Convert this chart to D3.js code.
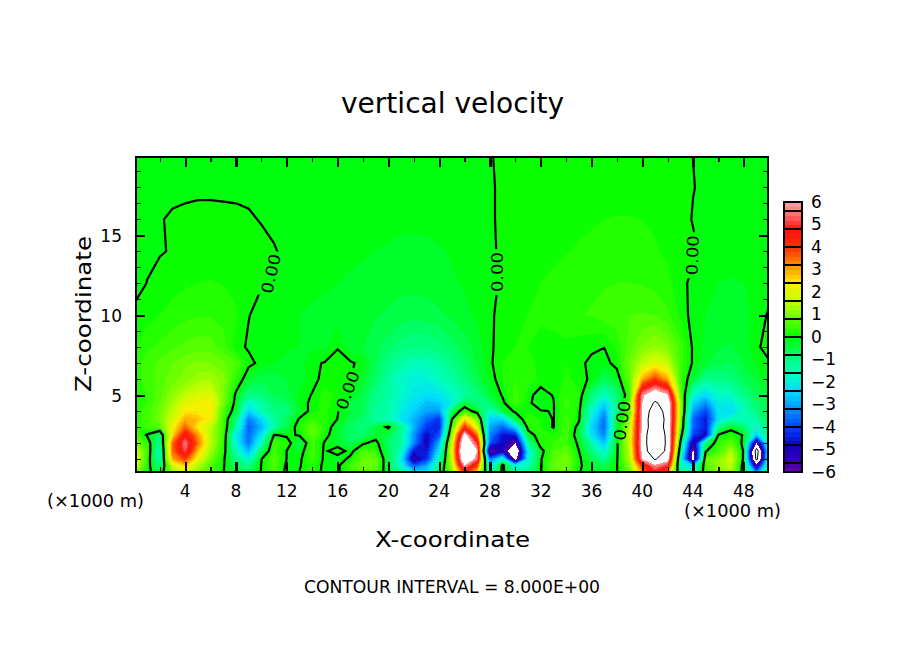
<!DOCTYPE html>
<html><head><meta charset="utf-8">
<script src="https://cdn.jsdelivr.net/npm/d3@7"></script>
<style>html,body{margin:0;padding:0;background:#fff}svg{display:block}text{font-family:"DejaVu Sans";fill:#000}</style>
</head><body><svg id="c" width="904" height="654"></svg>
<script>
// Column positions (km) and row heights (km)
const xKm = d3.range(0, 51);
const zKm = [0.1,0.6,1,1.5,2,2.5,3,3.5,4,4.5,5,6,7,8,10,12,14,16,18,20];
// Vertical velocity, one list per height (x = 0..50 km)
const w00 = [1.2,.2,-.4,1.1,1.8,1,.5,.01,-.3,-.5, .03,.5,-.15,.02,.3,-.15,-.05,.3,.7,.6, -.4,-1.1,-2,-2.2,-.5,1,4,2.5,-1.5,.15, -1,-1,-.03,.7,.8,.02,-.2,-.3,-.02,.8, 3,4.5,3.3,-1,-1.3,.4,1,1.3,-.3,-3, -.5];
const w06 = [2,.3,-1,1.8,2.8,1.5,.7,.05,-.6,-1, .02,.7,-.1,-.05,.4,-.15,-.1,.5,.9,.8, -.5,-1.8,-3.8,-3,-1,1.5,6,4,-2.5,.2, -2,-1.5,-.05,.8,1,.1,-.3,-.6,-.02,1.1, 4.3,5.8,5,-1.5,-2.5,.6,1.2,1.6,-.3,-5.5, -.8];
const w10 = [2.2,.4,-1.4,3,4,2.2,1,.1,-1,-1.9, -.02,.7,-.01,-.1,.5,-.1,-.3,.15,.8,.8, -.5,-2,-5.5,-4.2,-1.6,1.8,7.5,5.5,-3.5,-1.5, -6.5,-2,-.05,.7,1,.1,-.5,-1.2,-.05,1.5, 6,8.2,6.5,-1.5,-6.6,.8,1.1,1.8,-.15,-8.5, -1];
const w15 = [2,.5,-1.5,3.5,5.3,2.8,1.3,.3,-1.5,-2.8, -.7,.5,-.01,-.3,.6,-.1,.3,-.2,.6,.4, -.6,-1.5,-4.5,-4.6,-2.2,2,8,6,-6.1,-5, -7.5,-2,-.2,.6,.8,.01,-.9,-1.9,-.1,1.6, 6.3,10.5,7.2,-.8,-6.2,-.05,.5,1.4,-.1,-9, -1.2];
const w20 = [1.2,.4,-1.2,3.5,5.6,3.5,1.6,.4,-1.9,-3.5, -1.5,.5,.3,-.6,.5,-.05,-.3,-.6,-.1,.2, -.8,-1.2,-3.2,-5,-2.8,1.8,7.5,5,-3.8,-4.8, -6,-1.2,.3,.4,.5,-.1,-1.3,-2.7,-.1,1.8, 6.4,11,7.3,-.1,-5.5,-.8,.4,.8,-.2,-6, -1];
const w25 = [.6,-.05,-.8,2.5,4.8,3.2,1.5,.5,-2,-3.6, -2.2,.05,-.1,.05,.8,.15,-.3,-.8,-.8,-.3, -.5,-1.2,-3.1,-4.8,-3.8,1.2,6.5,3.5,-3.3,-4.6, -4.4,-.3,.3,.2,.5,-.3,-2.2,-3.3,-.3,1.8, 6.3,11,7.2,.5,-4,-4.8,.05,.3,-.05,-2.5, -.7];
const w30 = [.3,.5,.7,2.2,3.6,2.3,1.6,.5,-1.2,-3.7, -2.8,-1.3,-.5,.3,.8,.3,-.3,-.7,-.9,-.4, .1,-1,-2.8,-4.1,-4.4,.6,4.2,2,-3,-3.6, -2.4,.2,.2,-.02,.6,-.2,-2.4,-3.6,-.4,1.6, 6.2,10,7,1,-3.6,-4.5,-1,-.2,-.8,-1.8, -.6];
const w35 = [.3,.5,1,1.8,3,2.8,2.2,.5,-.9,-3.4, -2.4,-1.2,-.6,.05,.4,.3,-.01,-.5,-.7,-1.3, -1.5,-2.1,-2.8,-3.6,-4.2,-.05,2.6,1,-2.5,-2.5, -.5,.4,.2,-.02,.5,.1,-2,-3.5,-.4,1.2, 6.3,10,7.2,1.2,-3.6,-4.5,-2.2,-1.6,-1.5,-1.3, -.5];
const w40 = [.3,.5,.9,1.6,2.4,2.4,2.3,.6,-.3,-2.5, -1.5,-1,-.9,-.3,.15,.25,.03,-.4,-.6,-1.2, -1.3,-2,-2.5,-3,-3.1,-.6,.4,-.3,-1.6,-.4, .1,.1,.03,-.02,.4,.15,-1.8,-3,-1,.8, 6.2,9.5,7,1.4,-3,-4,-2.2,-2.4,-1.5,-.9, -.4];
const w45 = [.2,.4,.8,1.4,2,2.2,2.4,1,-.2,-1.8, -1.3,-.8,-.7,-.2,.1,.3,.05,-.4,-.6,-1.1, -1.4,-1.9,-2.3,-2.7,-2.6,-1.9,-.4,-.9,-.8,-.1, .5,.1,-.25,-.02,.5,.2,-1.2,-2.4,-1,1, 6,8.3,7,1.3,-2.5,-3.2,-2,-2.1,-1.3,-.8, -.4];
const w50 = [.2,.4,.7,1.2,1.6,1.9,2,1,-.1,-1, -.9,-.6,-.5,-.15,.02,.3,.15,-.15,-.5,-1, -1.3,-1.7,-2.1,-2.3,-2.2,-1.7,-1.3,-.9,-.4,.05, .5,.1,-.15,.02,.4,.3,-.9,-1.6,-.9,.5, 5.8,7,6.1,.9,-1.7,-2.4,-1.7,-1.6,-1,-.6, -.3];
const w60 = [.3,.5,.7,.9,1.1,1.3,1.4,1.1,.35,-.3, -.5,-.5,-.4,-.3,-.1,.1,.15,.02,-.3,-.7, -1.3,-1.7,-1.9,-1.9,-1.6,-1.3,-.9,-.5,-.15,.2, .4,.35,.15,.05,.25,.1,-.05,-.6,-.25,.8, 3,4,3,.5,-.4,-1.1,-1,-.9,-.6,-.35, -.1];
const w70 = [.3,.5,.65,.8,.95,1.05,1,.85,.6,.1, -.1,-.2,-.25,-.3,-.05,.02,.2,.05,-.1,-.6, -1,-1.3,-1.5,-1.5,-1.3,-1,-.7,-.35,-.05,.2, .3,.25,.15,.15,.2,.05,-.05,-.15,.15,.9, 1.6,2,1.7,.5,-.05,-.35,-.55,-.6,-.4,-.15, -.03];
const w80 = [.2,.35,.45,.55,.65,.72,.7,.5,.1,-.04, -.12,-.15,-.18,-.2,-.22,-.25,-.03,-.35,-.4,-.55, -.7,-.9,-1,-1,-.9,-.7,-.5,-.3,-.04,.1, .2,.2,.12,.12,.15,.1,.04,.005,.25,.7, 1.05,1.25,1.05,.5,-.05,-.25,-.38,-.42,-.3,-.05, .12];
const w100 = [.05,.12,.2,.28,.34,.38,.38,.33,.22,.01, -.1,-.14,-.17,-.2,-.22,-.24,-.27,-.3,-.34,-.38, -.44,-.5,-.52,-.5,-.44,-.36,-.27,-.16,-.03,.06, .14,.2,.24,.28,.33,.38,.42,.48,.55,.6, .62,.6,.45,.15,-.1,-.2,-.28,-.3,-.28,-.1, .03];
const w120 = [-.08,.005,.05,.12,.17,.2,.21,.19,.15,.1, .02,-.04,-.1,-.14,-.17,-.18,-.2,-.22,-.25,-.28, -.3,-.32,-.33,-.32,-.28,-.23,-.17,-.1,-.05,.03, .1,.16,.2,.24,.28,.32,.35,.38,.4,.4, .38,.33,.25,.07,-.06,-.14,-.2,-.22,-.2,-.12, -.08];
const w140 = [-.06,-.04,-.01,.01,.06,.1,.12,.11,.1,.08, .05,.01,-.03,-.08,-.12,-.14,-.15,-.17,-.18,-.2, -.22,-.25,-.26,-.25,-.22,-.18,-.13,-.08,-.03,.03, .08,.12,.14,.16,.19,.22,.24,.26,.27,.27, .26,.22,.17,.1,.03,-.05,-.1,-.11,-.1,-.08, -.06];
const w160 = [-.03,-.02,-.01,.02,.04,.06,.06,.05,.04,.02, -.01,-.03,-.05,-.06,-.08,-.09,-.1,-.11,-.12,-.13, -.14,-.15,-.15,-.15,-.13,-.1,-.07,-.05,-.02,.03, .06,.08,.1,.12,.14,.16,.18,.2,.22,.22, .2,.17,.12,.06,-.01,-.04,-.06,-.06,-.05,-.04, -.03];
const w180 = [-.04,-.04,-.04,-.04,-.04,-.04,-.04,-.04,-.04,-.04, -.04,-.04,-.04,-.04,-.04,-.04,-.04,-.04,-.04,-.04, -.04,-.04,-.04,-.04,-.04,-.04,-.04,-.04,-.02,.03, .05,.05,.05,.05,.05,.05,.05,.05,.05,.05, .05,.05,.05,.03,.005,-.03,-.04,-.04,-.04,-.04, -.04];
const w200 = [-.02,-.02,-.02,-.02,-.02,-.02,-.02,-.02,-.02,-.02, -.03,-.03,-.03,-.03,-.03,-.03,-.03,-.03,-.03,-.03, -.03,-.03,-.03,-.03,-.03,-.02,-.02,-.02,-.01,.03, .03,.03,.03,.03,.03,.03,.03,.03,.03,.03, .03,.03,.03,.02,-.001,-.02,-.02,-.02,-.02,-.02, -.02];
const rows = [w00,w06,w10,w15,w20,w25,w30,w35,w40,w45,w50,w60,w70,w80,w100,w120,w140,w160,w180,w200];
// Colour stops of the colour bar
const colorValues = [-6,-5.6,-4.8,-4,-3.2,-2.4,-1.6,-.8,0,.8,1.6,2.4,3.2,4,4.8,5.6,6];
const colorStops = ["#7000a8","#3c00a8","#1000c0","#0040ff","#0090ff","#00dcff","#00ffc0","#00ff70","#00ff00","#60ff00","#c0ff00","#ffee00","#ff9000","#ff3000","#ff1010","#ff8080","#ffa0a0"];
// Tick values and labels
const xTicks = d3.range(4, 49, 4);
const xMinor = d3.range(2, 50, 2);
const zTicks = [5, 10, 15];
const zMinor = d3.range(1, 20);
const barTicks = d3.range(-6, 7);
const lineLabels = [{x:10.75,z:12.6,a:-77},{x:16.8,z:5.3,a:-70},{x:28.6,z:12.7,a:-90},{x:38.4,z:3.4,a:-82},{x:43.95,z:13.75,a:-88}];

const svg = d3.select("#c");
const X = d3.scaleLinear().domain([0.125, 49.9]).range([136, 768]);
const Z = d3.scaleLinear().domain([0.19, 19.9]).range([472, 157]);
const values = rows.flat();
const nx = xKm.length, nz = zKm.length;
const gx = d3.scaleLinear().domain(d3.range(nx)).range(xKm.map(X));
const gz = d3.scaleLinear().domain(d3.range(nz)).range(zKm.map(Z));
const path = d3.geoPath(d3.geoTransform({point(a,b){this.stream.point(gx(a-.5), gz(b-.5));}}));
const contours = d3.contours().size([nx,nz]).smooth(true);
const color = d3.scaleLinear().domain(colorValues).range(colorStops).clamp(true);
const defs = svg.append("defs");
defs.append("clipPath").attr("id","plot").append("rect").attr("x",136).attr("y",157).attr("width",632).attr("height",315);
const mask = defs.append("mask").attr("id","gaps").attr("maskUnits","userSpaceOnUse").attr("x",0).attr("y",0).attr("width",904).attr("height",654);
mask.append("rect").attr("width",904).attr("height",654).attr("fill","#fff");
lineLabels.forEach(d=>mask.append("rect").attr("x",-23).attr("y",-9).attr("width",46).attr("height",18).attr("fill","#000")
  .attr("transform",`translate(${X(d.x)},${Z(d.z)}) rotate(${d.a})`));

const plot = svg.append("g").attr("clip-path","url(#plot)");
plot.append("rect").attr("x",136).attr("y",157).attr("width",632).attr("height",315).attr("fill","#fff");
const levels = d3.range(0,60).map(i=>+(-6+i*.2).toFixed(1));
plot.selectAll("path.f").data(levels).join("path").attr("class","f")
  .attr("d",t=>path(contours.contour(values,t))).attr("fill",t=>color(t+.1)).attr("shape-rendering","crispEdges");
plot.append("path").attr("d",path(contours.contour(values,6))).attr("fill","#fff").attr("shape-rendering","crispEdges");
[8,-8].forEach(t=>plot.append("path").attr("d",path(contours.contour(values,t))).attr("fill","none").attr("stroke","#000").attr("stroke-width",1));
plot.append("g").attr("mask","url(#gaps)").append("path").attr("d",path(contours.contour(values,0)))
  .attr("fill","none").attr("stroke","#000").attr("stroke-width",2.2);
lineLabels.forEach(d=>plot.append("text").text("0.00").attr("text-anchor","middle").attr("dy","0.36em").attr("font-size",16)
  .attr("textLength",40).attr("lengthAdjust","spacingAndGlyphs")
  .attr("transform",`translate(${X(d.x)},${Z(d.z)}) rotate(${d.a})`));

// Axes
function ax(gen, tr, vals, size){
  const g = svg.append("g").attr("transform",tr).call(gen.tickValues(vals).tickSize(size).tickFormat(""));
  g.select(".domain").remove(); g.selectAll("line").attr("stroke","#000").attr("stroke-width",size>6?2.2:1.2).attr("shape-rendering","crispEdges");
  return g;
}
ax(d3.axisTop(X),"translate(0,472)",xMinor,5); ax(d3.axisTop(X),"translate(0,472)",xTicks,10);
ax(d3.axisBottom(X),"translate(0,157)",xMinor,5); ax(d3.axisBottom(X),"translate(0,157)",xTicks,10);
ax(d3.axisRight(Z),"translate(136,0)",zMinor,5); ax(d3.axisRight(Z),"translate(136,0)",zTicks,9);
ax(d3.axisLeft(Z),"translate(768,0)",zMinor,5); ax(d3.axisLeft(Z),"translate(768,0)",zTicks,9);
svg.append("rect").attr("x",136).attr("y",157).attr("width",632).attr("height",315).attr("fill","none").attr("stroke","#000").attr("stroke-width",2.6).attr("shape-rendering","crispEdges");

const txt=(s,x,y,size,len,anchor="start",rot)=>{const t=svg.append("text").text(s).attr("x",x).attr("y",y).attr("font-size",size).attr("text-anchor",anchor);
  if(len)t.attr("textLength",len).attr("lengthAdjust","spacingAndGlyphs"); if(rot!=null)t.attr("transform",`rotate(${rot} ${x} ${y})`); return t;};
xTicks.forEach(v=>txt(String(v),X(v),497,17,null,"middle"));
zTicks.forEach(v=>txt(String(v),122,Z(v)+6.5,17,null,"end"));
txt("(×1000 m)",47,507,17,97);
txt("(×1000 m)",684,517,17,97);
txt("vertical velocity",341,113,29,223);
txt("X-coordinate",375,547,22,155);
txt("Z-coordinate",91,392,22,156,"start",-90);
txt("CONTOUR INTERVAL = 8.000E+00",304,593,18,296);

// Colour bar
const B = d3.scaleLinear().domain([-6,6]).range([472,202]);
const bar = svg.append("g");
const barLevels = d3.range(0,60).map(i=>+(-6+i*.2).toFixed(1));
bar.selectAll("rect").data(barLevels).join("rect").attr("x",784).attr("width",18)
  .attr("y",d=>B(d+.2)).attr("height",d=>B(d)-B(d+.2)+.5).attr("fill",d=>color(d+.1)).attr("shape-rendering","crispEdges");
const seps = [-6,...d3.range(-7,8).map(i=>i*.8),6];
bar.selectAll("line").data(seps).join("line").attr("x1",783).attr("x2",803).attr("y1",d=>B(d)).attr("y2",d=>B(d)).attr("stroke","#000").attr("stroke-width",2.2).attr("shape-rendering","crispEdges");
bar.append("rect").attr("x",784).attr("y",202).attr("width",18).attr("height",270).attr("fill","none").attr("stroke","#000").attr("stroke-width",2.4).attr("shape-rendering","crispEdges");
const barAxis = svg.append("g").attr("transform","translate(811,0)").call(d3.axisRight(B).tickValues(barTicks).tickSize(0).tickPadding(0));
barAxis.select(".domain").remove();
barAxis.selectAll("text").attr("font-size",17).attr("font-family","DejaVu Sans").attr("fill","#000");
</script></body></html>
